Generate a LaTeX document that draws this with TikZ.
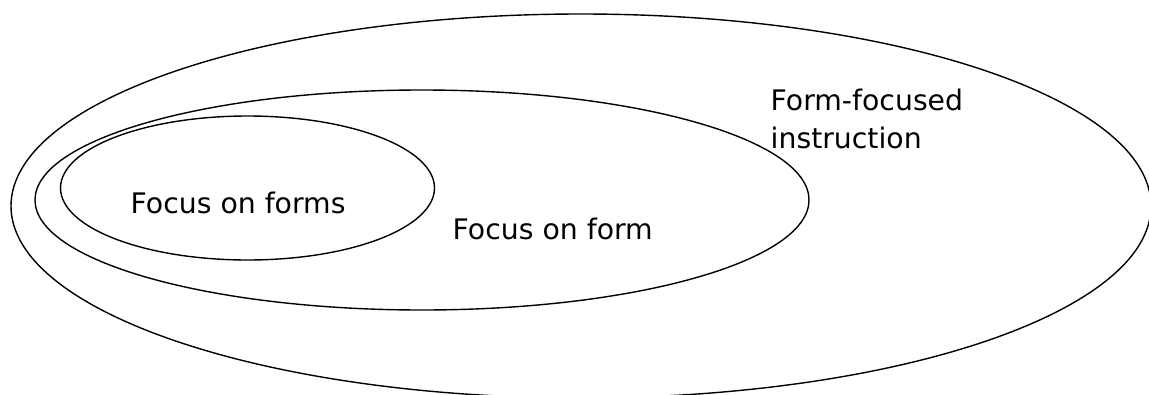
\documentclass[tikz,border=0pt]{standalone}
\usepackage{fontspec}
\setmainfont{DejaVu Sans}
\usetikzlibrary{positioning}
\tikzset{
  every picture/.style={line width=1.4pt},
  ring/.style={draw=black},
  label/.style={font=\fontsize{28.3}{38}\selectfont, inner sep=0pt, anchor=base west, align=left},
}

\begin{document}
\begin{tikzpicture}[x=1pt, y=-1pt]
  \useasboundingbox (0,0) rectangle (1149,394);
  % ---------------- nested sets
  \draw[ring] (581,206) ellipse [x radius=570, y radius=192];
  \draw[ring] (422,200) ellipse [x radius=387, y radius=110];
  \draw[ring] (247.5,188) ellipse [x radius=187, y radius=72];
  % ---------------- labels
  \node[label] (forms) at (130,213) {Focus on forms};
  \node[label] (form) at (452,239) {Focus on form};
  \node[label] (ffi) at (770,148) {Form-focused\\instruction};
\end{tikzpicture}
\end{document}
